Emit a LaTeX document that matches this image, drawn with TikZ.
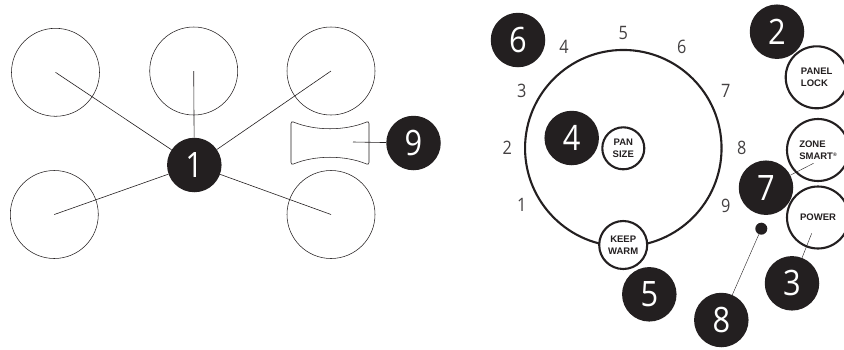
\documentclass[tikz,border=0pt]{standalone}
\usepackage{fontspec}
\setmainfont[FakeStretch=0.88]{Open Sans}
\newfontfamily\btnfont{Liberation Sans}
\definecolor{ink}{HTML}{231F20}
\tikzset{
  burner/.style={circle,draw=ink,line width=0.55pt,minimum size=88pt,inner sep=0pt},
  badge/.style={circle,fill=ink,text=white,minimum size=54.5pt,inner sep=0pt,font=\fontsize{35}{35}\selectfont},
  btn/.style={circle,draw=ink,line width=2.1pt,fill=white,inner sep=0pt,text=ink,font=\btnfont\bfseries\fontsize{9.5}{12}\selectfont},
  dial/.style={text=ink!85,inner sep=0pt,font=\fontsize{18.5}{18}\selectfont},
  leader/.style={draw=ink,line width=0.6pt}
}
\begin{document}
\begin{tikzpicture}[x=1pt,y=-1pt]
\useasboundingbox (0,0) rectangle (844,349);
% left: cooktop
\node[burner] (c1) at (55.5,72.3) {};
\node[burner] (c2) at (193.7,71) {};
\node[burner] (c3) at (331,71) {};
\node[burner] (c4) at (54.3,214.5) {};
\node[burner] (c5) at (331,214.5) {};
\coordinate (w9) at (353,142);
\draw[ink,line width=0.55pt,rounded corners=2.5pt] (291,121)
  .. controls (315,131) and (345,131) .. (369,121)
  -- (369,165)
  .. controls (345,155) and (315,155) .. (291,165) -- cycle;
\node[badge] (b1) at (194.3,165) {1};
\node[badge] (b9) at (413.5,143) {9};
\draw[leader] (c1.center) -- (b1);
\draw[leader] (c2.center) -- (b1);
\draw[leader] (c3.center) -- (b1);
\draw[leader] (c4.center) -- (b1);
\draw[leader] (c5.center) -- (b1);
\draw[leader] (w9) -- (b9);
% right: control panel
\node[circle,draw=ink,line width=2.1pt,minimum size=196.5pt,inner sep=0pt] (dialring) at (623.3,148.2) {};
\node[btn,minimum size=42pt,align=center] (pan) at (623.3,148.3) {PAN\\SIZE};
\node[btn,minimum size=48pt,align=center] (warm) at (623.2,245) {KEEP\\WARM};
\node[btn,minimum size=62pt,align=left] (lock) at (816.7,77.3) {PANEL\\LOCK};
\node[btn,minimum size=62pt,align=left] (zone) at (818,150) {ZONE\\SMART{\fontsize{5}{5}\selectfont\raisebox{2.5pt}{®}}};
\node[btn,minimum size=62pt] (power) at (818,217.5) {POWER};
\node[circle,fill=ink,minimum size=12pt,inner sep=0pt] (dot) at (761.3,228.7) {};
\coordinate (w7) at (813.5,163.3);
\coordinate (w3) at (811.7,233.3);
\node[badge] (b2) at (777,31.7) {2};
\node[badge] (b6) at (518,40) {6};
\node[badge] (b4) at (571.7,138) {4};
\node[badge] (b7) at (766,187.7) {7};
\node[badge] (b5) at (649.3,294.3) {5};
\node[badge] (b3) at (792,283.3) {3};
\node[badge] (b8) at (721.3,320) {8};
\draw[leader,line width=0.4pt] (w7) -- (b7);
\draw[leader,line width=0.4pt] (w3) -- (b3);
\draw[leader,line width=0.4pt] (dot) -- (b8);
\node[dial] (n1) at (521.7,204.5) {1};
\node[dial] (n2) at (507.3,147.7) {2};
\node[dial] (n3) at (521.7,90.7) {3};
\node[dial] (n4) at (564,46.7) {4};
\node[dial] (n5) at (623.3,32.7) {5};
\node[dial] (n6) at (681.7,46.7) {6};
\node[dial] (n7) at (725.7,90.7) {7};
\node[dial] (n8) at (741.7,147.7) {8};
\node[dial] (n9) at (725.7,205.7) {9};
\end{tikzpicture}
\end{document}
